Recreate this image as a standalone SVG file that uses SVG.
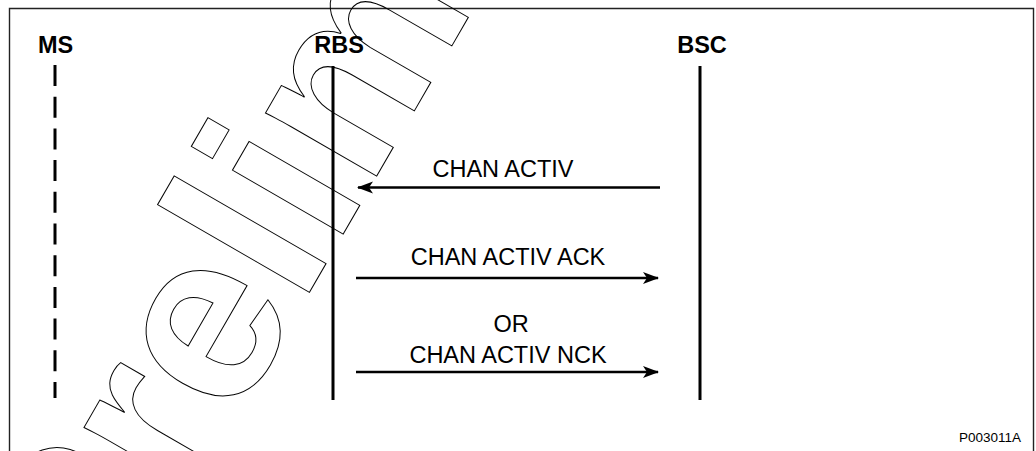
<svg xmlns="http://www.w3.org/2000/svg" width="1036" height="451" viewBox="0 0 1036 451">
  <style>
    .lbl { font-family: "Liberation Sans", Arial, sans-serif; font-size: 23.5px; fill: #000; text-anchor: middle; }
    .hdr { font-family: "Liberation Sans", Arial, sans-serif; font-size: 23.5px; font-weight: bold; fill: #000; text-anchor: middle; }
    .life { stroke: #000; stroke-width: 3; fill: none; }
    .msg { stroke: #000; stroke-width: 2.5; fill: none; marker-end: url(#ah); }
    .wm { font-family: "Liberation Sans", Arial, sans-serif; font-size: 242px; font-weight: bold; fill: none; stroke: #000; stroke-width: 1; }
  </style>
  <defs>
    <marker id="ah" markerUnits="userSpaceOnUse" markerWidth="18" markerHeight="14" refX="15" refY="6" orient="auto">
      <path d="M0,0 L16,6 L0,12 L4,6 Z" fill="#000"/>
    </marker>
  </defs>
  <rect width="1036" height="451" fill="#fff"/>
  <path d="M9.5,451 V8.5 H1033.5 V451" fill="none" stroke="#222" stroke-width="1.4"/>

  <g id="ms">
    <text class="hdr" x="55.5" y="53">MS</text>
    <line class="life" x1="55" y1="65" x2="55" y2="398" stroke-dasharray="21 10.7"/>
  </g>
  <g id="rbs">
    <text class="hdr" x="339" y="53">RBS</text>
    <line class="life" x1="333" y1="66" x2="333" y2="400"/>
  </g>
  <g id="bsc">
    <text class="hdr" x="702" y="53">BSC</text>
    <line class="life" x1="700" y1="66" x2="700" y2="400"/>
  </g>

  <g id="connectors">
    <line class="msg" x1="660" y1="187.5" x2="358" y2="187.5"/>
    <line class="msg" x1="356" y1="278" x2="658" y2="278"/>
    <line class="msg" x1="356" y1="372" x2="658" y2="372"/>
  </g>

  <g id="labels">
    <text class="lbl" x="503" y="177">CHAN ACTIV</text>
    <text class="lbl" x="508" y="265">CHAN ACTIV ACK</text>
    <text class="lbl" x="511" y="332">OR</text>
    <text class="lbl" x="508" y="363">CHAN ACTIV NCK</text>
  </g>

  <text x="1021" y="442" font-family="Liberation Sans, Arial, sans-serif" font-size="13.5" text-anchor="end">P003011A</text>

  <g id="watermark">
    <text class="wm" transform="translate(106,645) rotate(-60)">Preliminary</text>
  </g>
</svg>
